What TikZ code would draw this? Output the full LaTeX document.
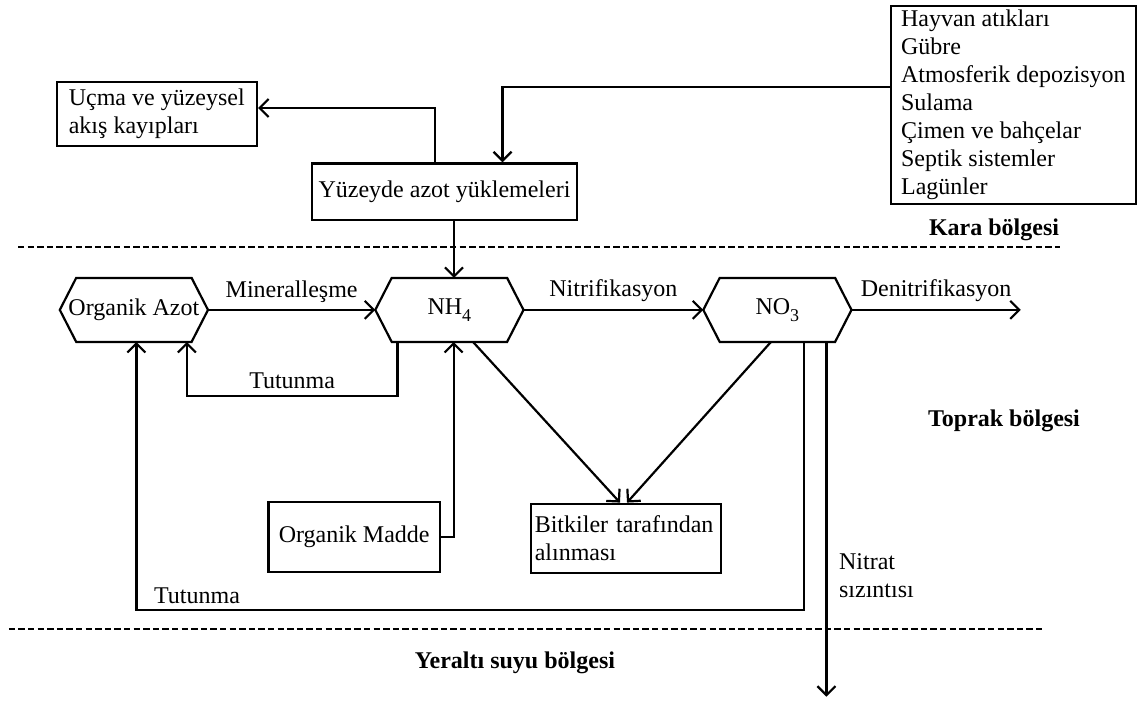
\documentclass[tikz,border=0pt]{standalone}
\usepackage{fontspec}
\setmainfont{Liberation Serif}
\usetikzlibrary{arrows.meta}

\newcommand{\lowsub}[1]{\raisebox{-3.5pt}{\fontsize{9}{10}\selectfont #1}}

\begin{document}
\begin{tikzpicture}[x=0.5pt,y=-0.5pt,
   font=\fontsize{12}{14}\selectfont,
   line width=1.1pt,
   box/.style={draw,line width=1.1pt,inner sep=2pt},
   hexa/.style={inner sep=0pt,minimum width=73pt,minimum height=30.9pt},
   flow/.style={-{Straight Barb[length=4.5pt,width=9pt]}},
   zone/.style={font=\fontsize{12}{14}\selectfont\bfseries},
   sep/.style={dash pattern=on 3.2pt off 1.6pt}]
\useasboundingbox (0,0) rectangle (1146,702);
% boxes
\node[box,minimum width=122.6pt,minimum height=99pt,align=left,inner xsep=5pt] (src) at (1013.4,105)
  {Hayvan atıkları\\Gübre\\Atmosferik depozisyon\\Sulama\\Çimen ve bahçelar\\Septik sistemler\\Lagünler};
\node[box,minimum width=100.2pt,minimum height=32pt,align=left] (ucma) at (156.8,114) {Uçma ve yüzeysel\\akış kayıpları};
\node[box,minimum width=132.5pt,minimum height=28.3pt] (yuk) at (444.5,191.7) {Yüzeyde azot yüklemeleri};
\node[hexa] (orgazot) at (133.9,309.9) {Organik Azot};
\node[hexa] (nh) at (449.4,309.9) {NH\lowsub{4}};
\node[hexa] (no) at (777.4,309.9) {NO\lowsub{3}};
\node[box,minimum width=85.8pt,minimum height=35pt] (om) at (354.2,536.7) {Organik Madde};
\node[box,minimum width=95pt,minimum height=34.8pt,text width=91pt,align=left] (bitki) at (625.8,538.5) {Bitkiler tarafından\\alınması};
% zones
\node[zone] (kara) at (994,230) {Kara bölgesi};
\node[zone] (toprak) at (1004,421) {Toprak bölgesi};
\node[zone] (yeralti) at (515,663) {Yeraltı suyu bölgesi};
\draw[sep] (18,246.7) -- (1060,246.7);
\draw[sep] (8.8,629) -- (1041.7,629);
% hexagon outlines
\foreach \n in {orgazot,nh,no}
  \draw (\n.west) -- ([xshift=8.2pt]\n.north west) -- ([xshift=-8.2pt]\n.north east) -- (\n.east)
    -- ([xshift=-8.2pt]\n.south east) -- ([xshift=8.2pt]\n.south west) -- cycle;
\coordinate (denit) at (1020.8,309.9);
\coordinate (leak) at (826.4,696.7);
% flows
\draw[flow] ([yshift=8.85pt]src.west) -| ([xshift=29pt]yuk.north);
\draw[flow] ([xshift=-4.75pt]yuk.north) |- ([yshift=3pt]ucma.east);
\draw[flow] ([xshift=4.75pt]yuk.south) -- ([xshift=2.3pt]nh.north);
\draw[flow] (orgazot.east) -- node[above] {Mineralleşme} (nh.west);
\draw[flow] (nh.east) -- node[above] {Nitrifikasyon} (no.west);
\draw[flow] (no.east) -- node[above] {Denitrifikasyon} (denit);
\draw[flow] ([xshift=-26pt]nh.south) -- ++(0,-27.2pt) -| node[pos=0.25,above] {Tutunma} ([xshift=26.5pt]orgazot.south);
\draw[flow] ([xshift=13.1pt]no.south) -- ++(0,-134.2pt)
  -| node[pos=0.5,anchor=base west,xshift=8.3pt,yshift=3.2pt,inner sep=0pt] {Tutunma} ([xshift=1.25pt]orgazot.south);
\draw[flow] ([xshift=24.5pt]no.south) -- node[pos=0.66,anchor=west,inner sep=0pt,xshift=5.8pt,align=left] {Nitrat\\sızıntısı} (leak);
\draw[flow] (om.east) -| ([xshift=2.1pt]nh.south);
\draw[flow] ([xshift=11.8pt]nh.south) -- ([xshift=-2.9pt]bitki.north);
\draw[flow] ([xshift=-3.2pt]no.south) -- ([xshift=0.6pt]bitki.north);
\end{tikzpicture}
\end{document}
